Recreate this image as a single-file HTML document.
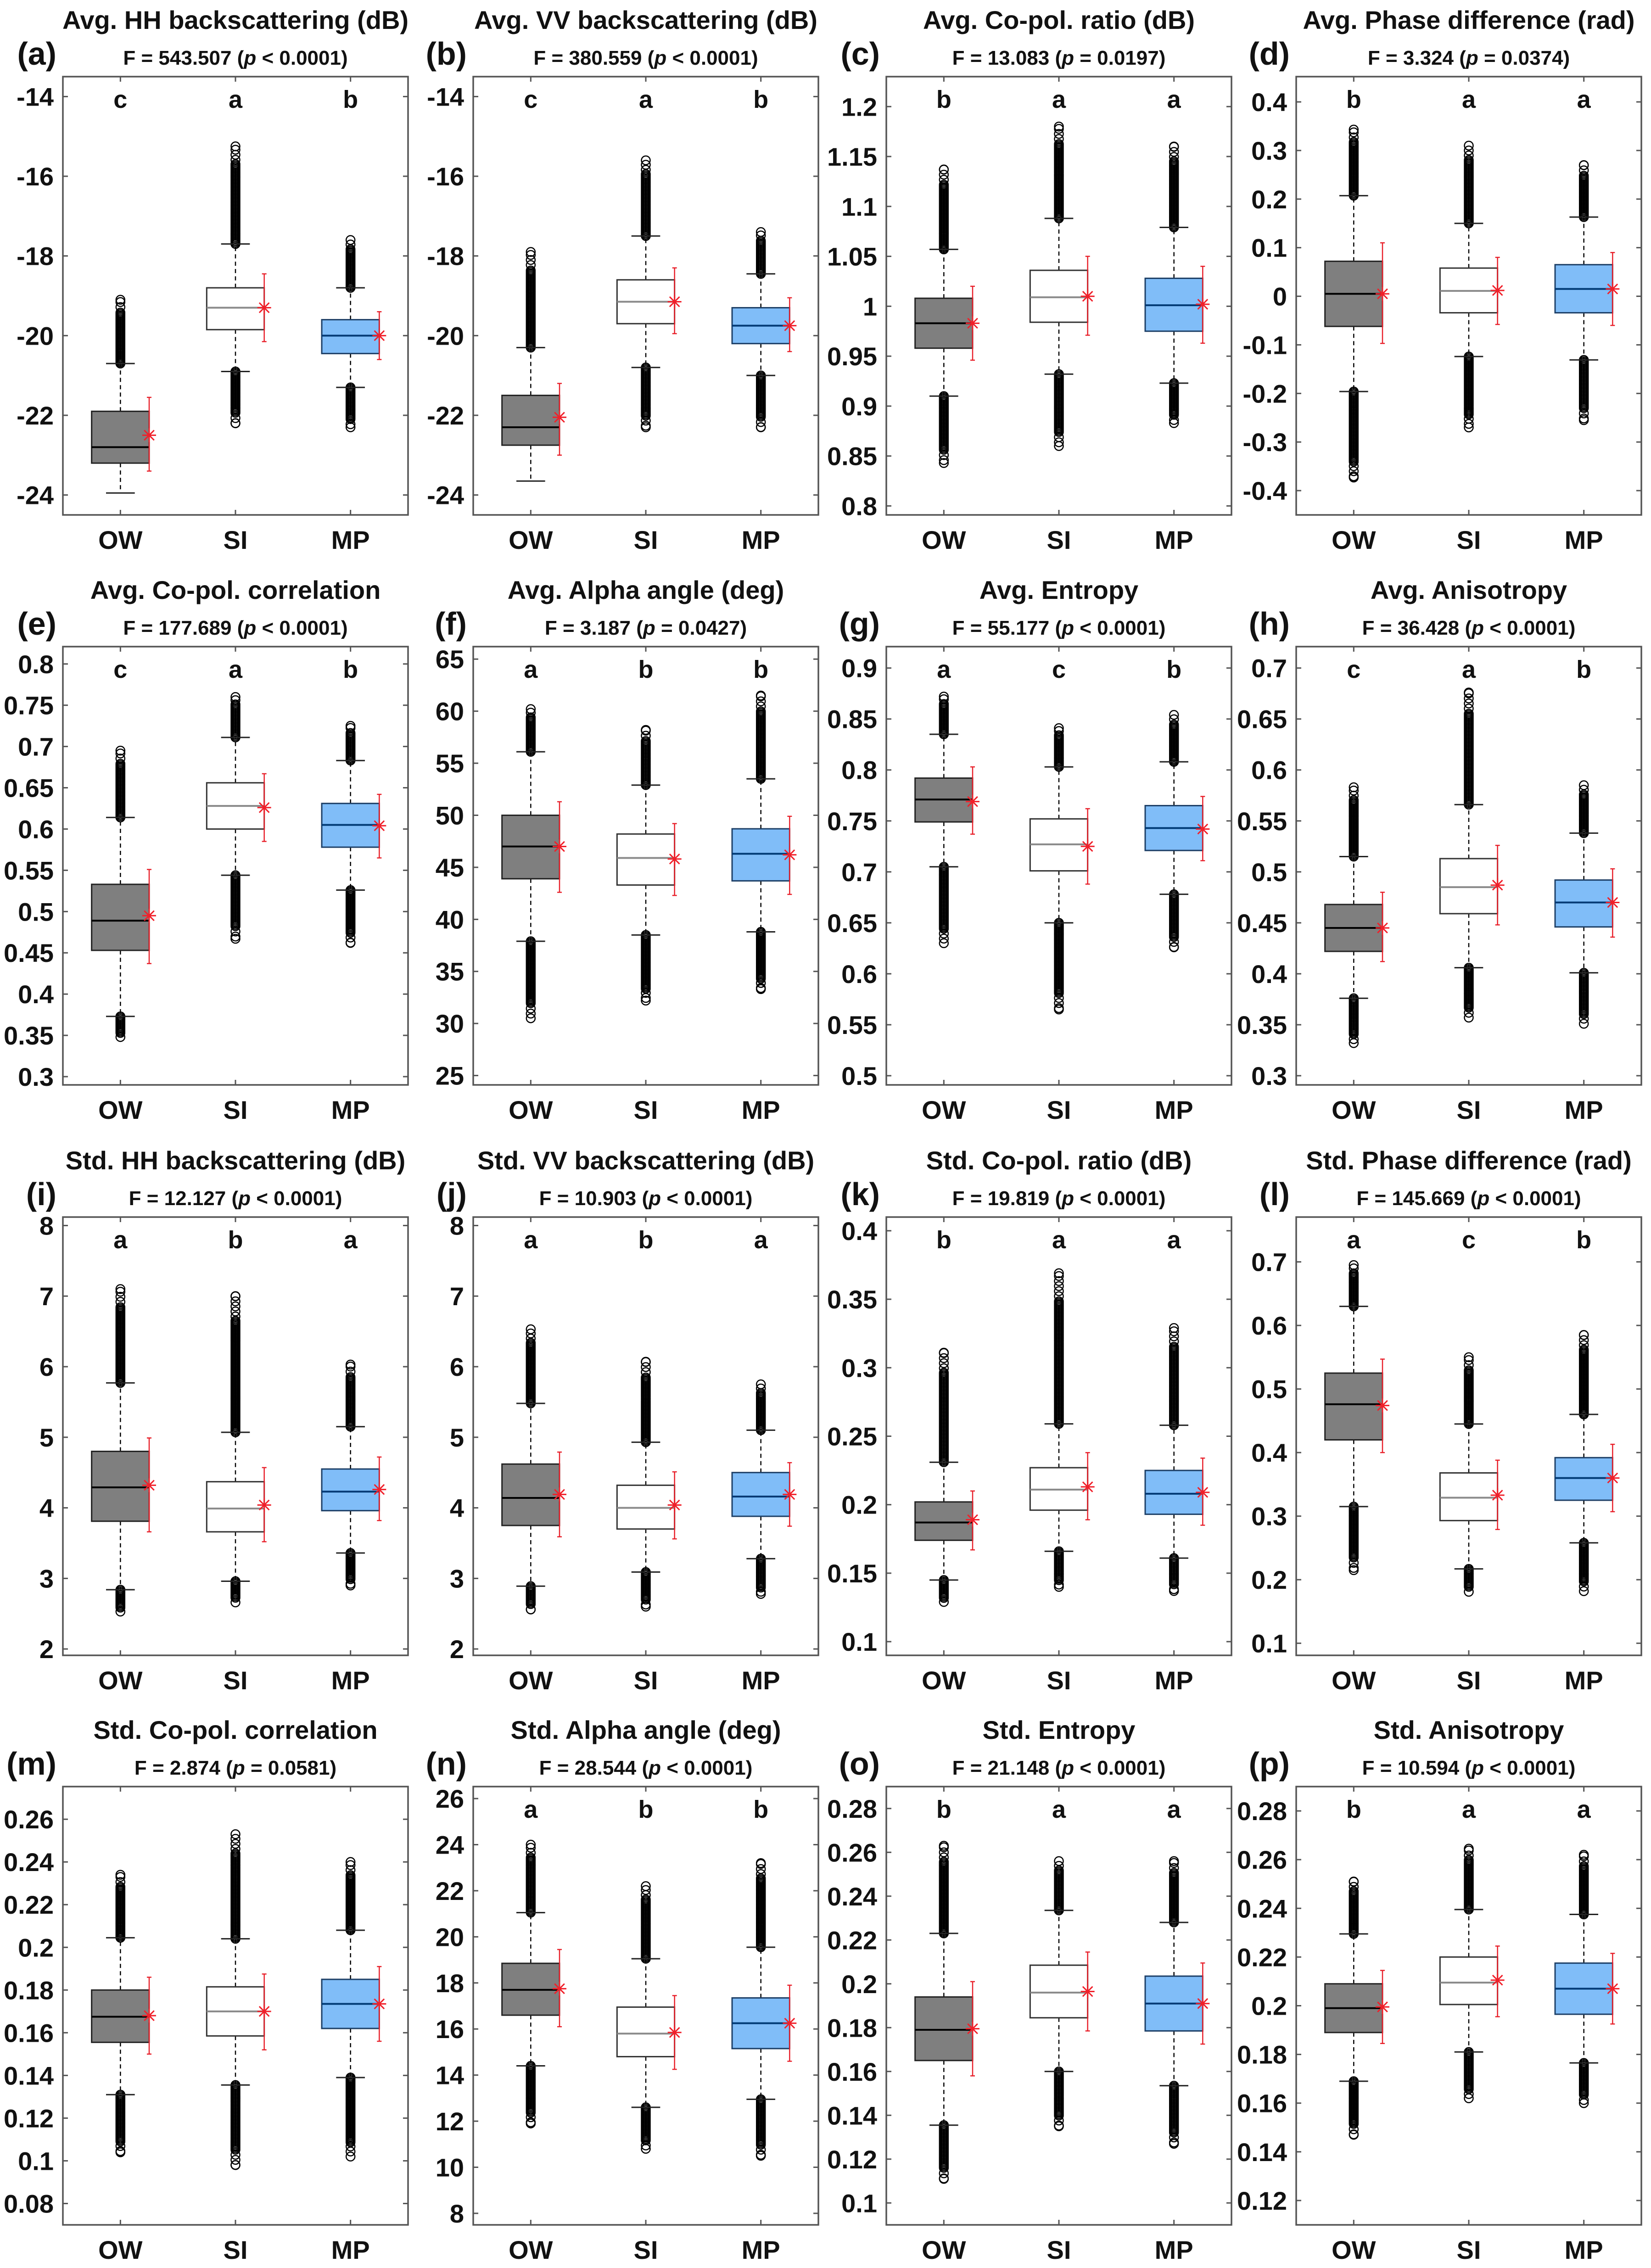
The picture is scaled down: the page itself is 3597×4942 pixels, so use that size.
<!DOCTYPE html>
<html><head><meta charset="utf-8"><title>Box plots</title>
<style>
html,body{margin:0;padding:0;background:#fff;}
svg{display:block;}
text{font-family:"Liberation Sans",Arial,sans-serif;font-weight:bold;fill:#111;}
</style></head>
<body>
<svg id="fig" xmlns="http://www.w3.org/2000/svg" width="3597" height="4942" viewBox="0 0 3597 4942"></svg>
<script>
// ---------- data ----------
const panelLetters = ['a','b','c','d','e','f','g','h','i','j','k','l','m','n','o','p'];
const titles = ['Avg. HH backscattering (dB)','Avg. VV backscattering (dB)','Avg. Co-pol. ratio (dB)','Avg. Phase difference (rad)',
 'Avg. Co-pol. correlation','Avg. Alpha angle (deg)','Avg. Entropy','Avg. Anisotropy',
 'Std. HH backscattering (dB)','Std. VV backscattering (dB)','Std. Co-pol. ratio (dB)','Std. Phase difference (rad)',
 'Std. Co-pol. correlation','Std. Alpha angle (deg)','Std. Entropy','Std. Anisotropy'];
const fValues = ['543.507','380.559','13.083','3.324','177.689','3.187','55.177','36.428','12.127','10.903','19.819','145.669','2.874','28.544','21.148','10.594'];
const pValues = ['< 0.0001','< 0.0001','= 0.0197','= 0.0374','< 0.0001','= 0.0427','< 0.0001','< 0.0001','< 0.0001','< 0.0001','< 0.0001','< 0.0001','= 0.0581','< 0.0001','< 0.0001','< 0.0001'];
const groupLetters = [['c','a','b'],['c','a','b'],['b','a','a'],['b','a','a'],['c','a','b'],['a','b','b'],['a','c','b'],['c','a','b'],
 ['a','b','a'],['a','b','a'],['b','a','a'],['a','c','b'],['','',''],['a','b','b'],['b','a','a'],['b','a','a']];
const categories = ['OW','SI','MP'];
const yMin = [-24.5,-24.5,0.791,-0.45,0.29,24.1,0.491,0.291,1.91,1.91,0.09,0.081,0.07,7.5,0.09,0.11];
const yMax = [-13.5,-13.5,1.23,0.452,0.821,66.2,0.921,0.721,8.12,8.12,0.41,0.7705,0.2753,26.52,0.29,0.29];
const tickLabels = [
 ['-24','-22','-20','-18','-16','-14'],['-24','-22','-20','-18','-16','-14'],
 ['0.8','0.85','0.9','0.95','1','1.05','1.1','1.15','1.2'],
 ['-0.4','-0.3','-0.2','-0.1','0','0.1','0.2','0.3','0.4'],
 ['0.3','0.35','0.4','0.45','0.5','0.55','0.6','0.65','0.7','0.75','0.8'],
 ['25','30','35','40','45','50','55','60','65'],
 ['0.5','0.55','0.6','0.65','0.7','0.75','0.8','0.85','0.9'],
 ['0.3','0.35','0.4','0.45','0.5','0.55','0.6','0.65','0.7'],
 ['2','3','4','5','6','7','8'],['2','3','4','5','6','7','8'],
 ['0.1','0.15','0.2','0.25','0.3','0.35','0.4'],
 ['0.1','0.2','0.3','0.4','0.5','0.6','0.7'],
 ['0.08','0.1','0.12','0.14','0.16','0.18','0.2','0.22','0.24','0.26'],
 ['8','10','12','14','16','18','20','22','24','26'],
 ['0.1','0.12','0.14','0.16','0.18','0.2','0.22','0.24','0.26','0.28'],
 ['0.12','0.14','0.16','0.18','0.2','0.22','0.24','0.26','0.28']];
// per panel: [OW, SI, MP]
const q1 = [[-23.2,-19.85,-20.45],[-22.75,-19.7,-20.2],[0.958,0.984,0.975],[-0.062,-0.034,-0.034],[0.453,0.6,0.578],[43.9,43.3,43.7],[0.749,0.701,0.721],[0.422,0.459,0.446],
 [3.81,3.66,3.96],[3.75,3.7,3.88],[0.174,0.196,0.193],[0.42,0.293,0.325],[0.1555,0.1585,0.162],[16.6,14.8,15.15],[0.165,0.1845,0.1785],[0.189,0.2005,0.1965]];
const median = [[-22.8,-19.3,-20.0],[-22.3,-19.15,-19.75],[0.983,1.009,1.001],[0.005,0.011,0.015],[0.489,0.628,0.605],[47,45.9,46.3],[0.771,0.727,0.743],[0.445,0.485,0.47],
 [4.29,3.99,4.23],[4.14,4.0,4.16],[0.187,0.211,0.208],[0.476,0.329,0.36],[0.1675,0.17,0.1735],[17.7,15.8,16.25],[0.179,0.196,0.191],[0.199,0.2095,0.207]];
const q3 = [[-21.9,-18.8,-19.6],[-21.5,-18.6,-19.3],[1.008,1.036,1.028],[0.072,0.058,0.065],[0.533,0.656,0.631],[50,48.2,48.7],[0.792,0.752,0.765],[0.468,0.513,0.492],
 [4.8,4.37,4.55],[4.62,4.32,4.5],[0.202,0.227,0.225],[0.525,0.368,0.392],[0.18,0.1815,0.185],[18.85,16.95,17.35],[0.194,0.2085,0.2035],[0.209,0.22,0.2175]];
const whiskerLow = [[-23.95,-20.9,-21.3],[-23.65,-20.8,-21.0],[0.91,0.932,0.923],[-0.196,-0.124,-0.131],[0.373,0.544,0.526],[37.9,38.5,38.8],[0.705,0.65,0.678],[0.376,0.406,0.401],
 [2.84,2.96,3.36],[2.89,3.09,3.28],[0.145,0.166,0.161],[0.315,0.217,0.258],[0.131,0.1355,0.139],[14.4,12.6,12.95],[0.1355,0.16,0.1535],[0.169,0.181,0.1765]];
const whiskerHigh = [[-20.7,-17.7,-18.8],[-20.3,-17.5,-18.45],[1.057,1.088,1.079],[0.207,0.15,0.163],[0.614,0.711,0.683],[56.1,52.9,53.5],[0.835,0.803,0.808],[0.515,0.566,0.538],
 [5.77,5.07,5.15],[5.48,4.93,5.1],[0.231,0.259,0.258],[0.63,0.445,0.46],[0.2045,0.204,0.208],[21.05,19.05,19.55],[0.223,0.2335,0.228],[0.2295,0.2395,0.2375]];
const outlierMin = [[null,-22.2,-22.3],[null,-22.3,-22.3],[0.843,0.86,0.883],[-0.373,-0.27,-0.255],[0.348,0.467,0.462],[30.5,32.2,33.3],[0.63,0.565,0.626],[0.332,0.357,0.351],
 [2.53,2.66,2.9],[2.56,2.6,2.78],[0.129,0.14,0.137],[0.215,0.181,0.182],[0.104,0.098,0.102],[11.9,10.8,10.5],[0.111,0.135,0.127],[0.147,0.162,0.16]];
const outlierMax = [[-19.1,-15.25,-17.6],[-17.9,-15.6,-17.4],[1.137,1.18,1.16],[0.343,0.31,0.27],[0.695,0.76,0.725],[60.2,58.2,61.5],[0.872,0.841,0.854],[0.583,0.676,0.585],
 [7.1,7.0,6.03],[6.53,6.07,5.75],[0.311,0.369,0.329],[0.695,0.55,0.585],[0.234,0.253,0.24],[24.0,22.2,23.2],[0.263,0.256,0.256],[0.251,0.2645,0.262]];
const means = [[-22.5,-19.3,-20.0],[-22.05,-19.15,-19.75],[0.983,1.01,1.002],[0.005,0.012,0.015],[0.495,0.626,0.604],[47,45.8,46.2],[0.769,0.725,0.742],[0.445,0.487,0.47],
 [4.32,4.04,4.26],[4.19,4.04,4.19],[0.189,0.213,0.209],[0.474,0.333,0.36],[0.168,0.17,0.1735],[17.75,15.85,16.25],[0.1795,0.1965,0.191],[0.1995,0.2105,0.207]];
const errLow = [[-23.4,-20.15,-20.6],[-23.0,-19.95,-20.4],[0.946,0.971,0.963],[-0.097,-0.058,-0.06],[0.437,0.585,0.565],[42.6,42.3,42.4],[0.737,0.688,0.711],[0.412,0.448,0.436],
 [3.66,3.52,3.82],[3.59,3.56,3.74],[0.167,0.189,0.185],[0.4,0.279,0.307],[0.15,0.152,0.156],[16.1,14.25,14.6],[0.158,0.1785,0.1725],[0.1845,0.1955,0.1925]];
const errHigh = [[-21.55,-18.45,-19.4],[-21.2,-18.3,-19.05],[1.02,1.05,1.04],[0.11,0.08,0.09],[0.551,0.667,0.642],[51.3,49.2,49.9],[0.803,0.762,0.774],[0.48,0.526,0.503],
 [4.99,4.57,4.72],[4.79,4.51,4.64],[0.21,0.238,0.234],[0.547,0.388,0.413],[0.186,0.1875,0.191],[19.45,17.45,17.9],[0.201,0.2145,0.2095],[0.2145,0.2245,0.2215]];

// ---------- layout ----------
const colLeft = [137,1031,1931,2824];
const rowTop = [167,1409,2652,3893];
const AXW = 752, AXH = 955;
const boxFill = ['#7f7f7f','#ffffff','#80bdf8'];
const boxEdge = ['#222','#333','#1d3f66'];
const medColor = ['#000','#8a8a8a','#003a75'];
const NS = 'http://www.w3.org/2000/svg';
const svg = document.getElementById('fig');

function mk(tag, attrs, parent){
  const e = document.createElementNS(NS, tag);
  for (const k in attrs) e.setAttribute(k, attrs[k]);
  (parent||svg).appendChild(e);
  return e;
}

for (let p = 0; p < 16; p++) {
  const L = colLeft[p % 4], T = rowTop[Math.floor(p / 4)], R = L + AXW, B = T + AXH;
  const y = v => B - (v - yMin[p]) / (yMax[p] - yMin[p]) * AXH;
  const x = c => L + (c + 0.5) / 3 * AXW; // c = 0..2 -> positions 1..3 on [0.5,3.5]
  const u = AXW / 3; // px per category unit

  const g = mk('g', {});
  
  

  // title
  const t = mk('text', {x: L + AXW/2, y: T - 104, 'text-anchor': 'middle', 'font-size': 56}, g);
  t.textContent = titles[p];
  
  

  // F line
  const f = mk('text', {x: L + AXW/2, y: T - 26, 'text-anchor': 'middle', 'font-size': 44}, g);
  
  
  const s1 = mk('tspan', {}, f); s1.textContent = 'F = ' + fValues[p] + ' (';
  const s2 = mk('tspan', {'font-style': 'italic'}, f); s2.textContent = 'p';
  const s3 = mk('tspan', {}, f); s3.textContent = ' ' + pValues[p] + ')';

  // panel label
  const pl = mk('text', {x: L - 14, y: T - 26, 'text-anchor': 'end', 'font-size': 70}, g);
  pl.textContent = '(' + panelLetters[p] + ')';
  
  

  // y ticks
  for (const lab of tickLabels[p]) {
    const v = parseFloat(lab), ty = y(v);
    const tk1 = mk('line', {x1: L, x2: L + 11, y1: ty, y2: ty, stroke: '#555', 'stroke-width': 3}, g);
    
    
    const tk2 = mk('line', {x1: R, x2: R - 11, y1: ty, y2: ty, stroke: '#555', 'stroke-width': 3}, g);
    
    
    const tl = mk('text', {x: L - 20, y: ty + 20, 'text-anchor': 'end', 'font-size': 56, fill: '#222'}, g);
    tl.textContent = lab;
    
    
  }

  for (let c = 0; c < 3; c++) {
    const cx = x(c);
    // x ticks
    const xt1 = mk('line', {x1: cx, x2: cx, y1: B, y2: B - 11, stroke: '#555', 'stroke-width': 3}, g);
    
    
    const xt2 = mk('line', {x1: cx, x2: cx, y1: T, y2: T + 11, stroke: '#555', 'stroke-width': 3}, g);
    
    
    const cl = mk('text', {x: cx, y: B + 74, 'text-anchor': 'middle', 'font-size': 56}, g);
    cl.textContent = categories[c];
    
    
    if (groupLetters[p][c]) {
      const gl = mk('text', {x: cx, y: T + 68, 'text-anchor': 'middle', 'font-size': 54}, g);
      gl.textContent = groupLetters[p][c];
      
      
    }

    // whiskers (dashed)
    const w1 = mk('line', {x1: cx, x2: cx, y1: y(q3[p][c]), y2: y(whiskerHigh[p][c]), stroke: '#000', 'stroke-width': 2.5, 'stroke-dasharray': '9 7'}, g);
    
    
    const w2 = mk('line', {x1: cx, x2: cx, y1: y(q1[p][c]), y2: y(whiskerLow[p][c]), stroke: '#000', 'stroke-width': 2.5, 'stroke-dasharray': '9 7'}, g);
    
    

    // outliers
    const drawOut = (from, to, nm) => {
      if (to === null) return;
      const y0 = y(from), y1 = y(to), span = y1 - y0, dir = Math.sign(span) || 1, len = Math.abs(span);
      const pts = [];
      const dense = len * 0.82;
      for (let d = 0; d <= dense; d += 3) pts.push(d);
      for (let d = dense + 9; d < len; d += 11) pts.push(d);
      pts.push(len);
      for (const d of pts) {
        const oc = mk('circle', {cx: cx, cy: y0 + dir * d, r: 9.5, fill: 'none', stroke: '#000', 'stroke-width': 2.5}, g);
        
        
      }
    };
    drawOut(whiskerHigh[p][c], outlierMax[p][c], 'outlier-high');
    drawOut(whiskerLow[p][c], outlierMin[p][c], 'outlier-low');

    // caps
    const c1 = mk('line', {x1: cx - u*0.125, x2: cx + u*0.125, y1: y(whiskerHigh[p][c]), y2: y(whiskerHigh[p][c]), stroke: '#222', 'stroke-width': 3}, g);
    
    
    const c2 = mk('line', {x1: cx - u*0.125, x2: cx + u*0.125, y1: y(whiskerLow[p][c]), y2: y(whiskerLow[p][c]), stroke: '#222', 'stroke-width': 3}, g);
    
    

    // box
    const bx = mk('rect', {x: cx - u*0.25, y: y(q3[p][c]), width: u*0.5, height: y(q1[p][c]) - y(q3[p][c]), fill: boxFill[c], stroke: boxEdge[c], 'stroke-width': 3}, g);
    
    
    const md = mk('line', {x1: cx - u*0.25, x2: cx + u*0.25, y1: y(median[p][c]), y2: y(median[p][c]), stroke: medColor[c], 'stroke-width': 4}, g);
    
    

    // error bar + mean star
    const ex = cx + u*0.25;
    const eb = mk('line', {x1: ex, x2: ex, y1: y(errLow[p][c]), y2: y(errHigh[p][c]), stroke: '#e8202a', 'stroke-width': 2.5}, g);
    
    
    for (const ev of [errLow[p][c], errHigh[p][c]]) {
      const ec = mk('line', {x1: ex - 5, x2: ex + 5, y1: y(ev), y2: y(ev), stroke: '#e8202a', 'stroke-width': 2.5}, g);
      
      
    }
    const my = y(means[p][c]), rs = 15;
    const star = mk('path', {d: `M${ex-rs},${my}H${ex+rs}M${ex},${my-rs}V${my+rs}M${ex-rs*0.72},${my-rs*0.72}L${ex+rs*0.72},${my+rs*0.72}M${ex-rs*0.72},${my+rs*0.72}L${ex+rs*0.72},${my-rs*0.72}`, stroke: '#f0202a', 'stroke-width': 3, fill: 'none'}, g);
    
    
  }

  // axes frame
  const fr = mk('rect', {x: L, y: T, width: AXW, height: AXH, fill: 'none', stroke: '#555', 'stroke-width': 3.5}, g);
  
  
}
</script>
</body></html>
